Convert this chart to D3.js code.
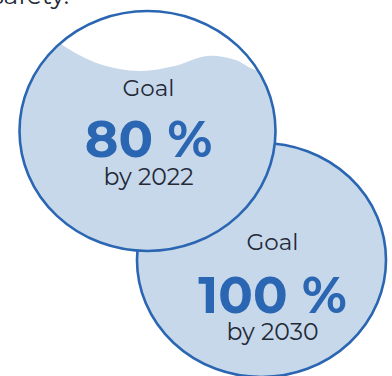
<!DOCTYPE html>
<html>
<head>
<meta charset="utf-8">
<script src="https://cdn.jsdelivr.net/npm/d3@7"></script>
<style>
  body { margin: 0; background: #fff; }
  svg { display: block; }
</style>
</head>
<body>
<svg id="goals" width="392" height="376"></svg>
<script>
const labels = ["Goal", "Goal"];
const goals = [80, 100];
const years = [2022, 2030];
const heading = "safety.";

const svg = d3.select("#goals");
const fill = "#c8d8eb", stroke = "#2a66b2", ink = "#232a38";
const font = "Montserrat, 'Open Sans', sans-serif";

// circle geometry (slightly oval in the source)
const shapes = [
  {cx: 147.5, cy: 131, rx: 128, ry: 120},
  {cx: 261.5, cy: 260, rx: 124.5, ry: 117}
];

const data = goals.map((g, i) => ({label: labels[i], goal: g, year: years[i], ...shapes[i], i}));

// wave offsets around the fill level
const wave = [[-140, -40], [-100, -28], [-85, -14], [-48, 5], [-8, 12], [27, 7], [60, -3], [88, 1], [110, 11], [150, 0]];

svg.append("text")
  .attr("x", 69).attr("y", 4)
  .attr("text-anchor", "end")
  .attr("font-family", font).attr("font-size", 25)
  .attr("fill", ink)
  .text(heading);

const defs = svg.append("defs");

// draw back circle first so the front one overlaps it
const order = data.slice().reverse();

const g = svg.selectAll("g.goal").data(order).join("g").attr("class", "goal");

g.each(function(d) {
  const sel = d3.select(this);
  const level = d3.scaleLinear().domain([0, 100]).range([d.cy + d.ry, d.cy - d.ry]);
  defs.append("clipPath").attr("id", "clip" + d.i)
    .append("ellipse").attr("cx", d.cx).attr("cy", d.cy).attr("rx", d.rx).attr("ry", d.ry);

  sel.append("ellipse")
    .attr("cx", d.cx).attr("cy", d.cy).attr("rx", d.rx).attr("ry", d.ry)
    .attr("fill", "#fff");

  const y0 = level(d.goal);
  let path;
  if (d.goal >= 100) {
    path = `M${d.cx - d.rx - 5},${y0 - 5}H${d.cx + d.rx + 5}V${d.cy + d.ry + 5}H${d.cx - d.rx - 5}Z`;
  } else {
    const pts = wave.map(([dx, dy]) => [d.cx + dx, y0 + dy]);
    const line = d3.line().curve(d3.curveCatmullRom)(pts);
    const last = pts[pts.length - 1], first = pts[0];
    path = line + `L${last[0]},${d.cy + d.ry + 5}L${first[0]},${d.cy + d.ry + 5}Z`;
  }
  sel.append("path")
    .attr("d", path)
    .attr("fill", fill)
    .attr("clip-path", `url(#clip${d.i})`);

  sel.append("ellipse")
    .attr("cx", d.cx).attr("cy", d.cy).attr("rx", d.rx).attr("ry", d.ry)
    .attr("fill", "none")
    .attr("stroke", stroke)
    .attr("stroke-width", 2.6);

  const tx = d.cx + (d.i === 0 ? 1 : 11);
  const ty = d.i === 0 ? 96 : 250;

  sel.append("text")
    .attr("x", tx).attr("y", ty)
    .attr("text-anchor", "middle")
    .attr("font-family", font).attr("font-size", 23)
    .attr("fill", ink)
    .text(d.label);

  sel.append("text")
    .attr("x", tx).attr("y", ty + (d.i === 0 ? 61 : 63))
    .attr("text-anchor", "middle")
    .attr("font-family", font).attr("font-size", 51).attr("font-weight", 700)
    .attr("fill", stroke)
    .text(d.goal + " %");

  sel.append("text")
    .attr("x", tx).attr("y", ty + (d.i === 0 ? 89 : 90))
    .attr("text-anchor", "middle")
    .attr("font-family", font).attr("font-size", 23.5)
    .attr("fill", ink)
    .text("by " + d.year);
});
</script>
</body>
</html>
